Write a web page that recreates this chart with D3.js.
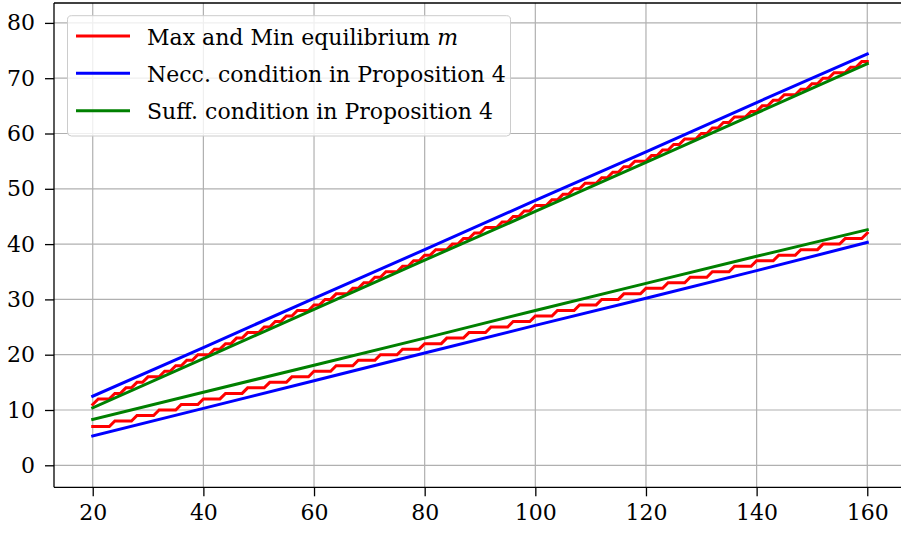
<!DOCTYPE html>
<html>
<head>
<meta charset="utf-8">
<script src="https://cdn.jsdelivr.net/npm/d3@7"></script>
<style>
  html, body { margin: 0; padding: 0; background: #fff; }
  svg { display: block; }
  text { font-family: "DejaVu Serif", "Liberation Serif", serif; fill: #000; }
</style>
</head>
<body>
<svg id="chart" width="901" height="534"></svg>
<script>
// ---------- data ----------
const xTicks = [20, 40, 60, 80, 100, 120, 140, 160];
const yTicks = [0, 10, 20, 30, 40, 50, 60, 70, 80];

// integer n = 20..160
const nValues = d3.range(20, 161);

// Max equilibrium m (one value per n = 20..160)
const maxEq = [
  11,12,12,12,13,13,14,14,15,15,16,16,16,17,17,18,18,19,19,20,
  20,20,21,21,22,22,23,23,24,24,24,25,25,26,26,27,27,28,28,28,
  29,29,30,30,31,31,31,32,32,33,33,34,34,35,35,35,36,36,37,37,
  38,38,39,39,39,40,40,41,41,42,42,43,43,43,44,44,45,45,46,46,
  47,47,47,48,48,49,49,50,50,51,51,51,52,52,53,53,54,54,55,55,
  55,56,56,57,57,58,58,59,59,59,60,60,61,61,62,62,63,63,63,64,
  64,65,65,66,66,67,67,67,68,68,69,69,70,70,71,71,71,72,72,73,
  73
];
// Min equilibrium m (one value per n = 20..160)
const minEq = [
  7,7,7,7,8,8,8,8,9,9,9,9,10,10,10,10,11,11,11,11,
  12,12,12,12,13,13,13,13,14,14,14,14,15,15,15,15,16,16,16,16,
  17,17,17,17,18,18,18,18,19,19,19,19,20,20,20,20,21,21,21,21,
  22,22,22,22,23,23,23,23,24,24,24,24,25,25,25,25,26,26,26,26,
  27,27,27,27,28,28,28,28,29,29,29,29,30,30,30,30,31,31,31,31,
  32,32,32,32,33,33,33,33,34,34,34,34,35,35,35,35,36,36,36,36,
  37,37,37,37,38,38,38,38,39,39,39,39,40,40,40,40,41,41,41,41,
  42
];

// Condition curves, sampled at n = 20, 40, ..., 160
const condX = [20, 40, 60, 80, 100, 120, 140, 160];
const neccUpper = [12.5, 21.3, 30.2, 39.0, 47.9, 56.7, 65.6, 74.4];
const neccLower = [5.3, 10.3, 15.3, 20.3, 25.3, 30.2, 35.2, 40.3];
const suffUpper = [10.4, 19.3, 28.2, 37.1, 45.9, 54.8, 63.7, 72.6];
const suffLower = [8.3, 13.2, 18.1, 23.0, 28.0, 32.9, 37.8, 42.6];

const legendLabels = ["Max and Min equilibrium ", "Necc. condition in Proposition 4", "Suff. condition in Proposition 4"];
const colors = ["#ff0000", "#0000ff", "#008000"];

// ---------- drawing ----------
const svg = d3.select("#chart");
const plot = { left: 54, right: 906, top: 3, bottom: 487.3 };

const x = d3.scaleLinear().domain([13, 167]).range([plot.left, plot.right]);
const y = d3.scaleLinear().domain([-3.98, 83.6]).range([plot.bottom, plot.top]);

const fontSize = 22;

// grid
const grid = svg.append("g");
grid.selectAll("line.vx").data(xTicks).join("line")
  .attr("x1", d => x(d)).attr("x2", d => x(d))
  .attr("y1", plot.top).attr("y2", plot.bottom)
  .attr("stroke", "#b0b0b0").attr("stroke-width", 1.2);
grid.selectAll("line.hy").data(yTicks).join("line")
  .attr("x1", plot.left).attr("x2", plot.right)
  .attr("y1", d => y(d)).attr("y2", d => y(d))
  .attr("stroke", "#b0b0b0").attr("stroke-width", 1.2);

// lines
const line = d3.line().x(d => x(d[0])).y(d => y(d[1]));
const zip = (xs, ys) => xs.map((v, i) => [v, ys[i]]);

const series = [
  { data: zip(nValues, maxEq), color: colors[0] },
  { data: zip(nValues, minEq), color: colors[0] },
  { data: zip(condX, neccUpper), color: colors[1] },
  { data: zip(condX, neccLower), color: colors[1] },
  { data: zip(condX, suffUpper), color: colors[2] },
  { data: zip(condX, suffLower), color: colors[2] }
];
svg.append("g").selectAll("path").data(series).join("path")
  .attr("d", d => line(d.data))
  .attr("fill", "none")
  .attr("stroke", d => d.color)
  .attr("stroke-width", 3)
  .attr("stroke-linejoin", "miter")
  .attr("stroke-linecap", "square");

// axes
const xAxis = d3.axisBottom(x).tickValues(xTicks).tickSize(9).tickPadding(8).tickFormat(d3.format("d"));
const yAxis = d3.axisLeft(y).tickValues(yTicks).tickSize(9).tickPadding(10).tickFormat(d3.format("d"));

const gx = svg.append("g").attr("transform", `translate(0,${plot.bottom})`).call(xAxis);
const gy = svg.append("g").attr("transform", `translate(${plot.left},0)`).call(yAxis);
[gx, gy].forEach(g => {
  g.select(".domain").remove();
  g.selectAll(".tick line").attr("stroke", "#000").attr("stroke-width", 1.3);
  g.selectAll(".tick text").attr("font-size", fontSize).attr("font-family", "DejaVu Serif").attr("fill", "#000");
});

// spines
svg.append("line").attr("x1", plot.left).attr("x2", plot.left).attr("y1", plot.top).attr("y2", plot.bottom)
  .attr("stroke", "#000").attr("stroke-width", 1.3);
svg.append("line").attr("x1", plot.left).attr("x2", plot.right).attr("y1", plot.bottom).attr("y2", plot.bottom)
  .attr("stroke", "#000").attr("stroke-width", 1.3);
svg.append("line").attr("x1", plot.left).attr("x2", plot.right).attr("y1", plot.top).attr("y2", plot.top)
  .attr("stroke", "#000").attr("stroke-width", 1.3);

// legend
const lg = svg.append("g");
lg.append("rect")
  .attr("x", 67.5).attr("y", 15.7).attr("width", 443).attr("height", 120.3)
  .attr("rx", 4).attr("ry", 4)
  .attr("fill", "#fff").attr("fill-opacity", 0.8)
  .attr("stroke", "#cccccc").attr("stroke-width", 1);
const rowY = [36, 73.3, 110.7];
legendLabels.forEach((lab, i) => {
  lg.append("line").attr("x1", 76).attr("x2", 130).attr("y1", rowY[i]).attr("y2", rowY[i])
    .attr("stroke", colors[i]).attr("stroke-width", 3);
  const t = lg.append("text").attr("x", 147).attr("y", rowY[i] + 8.5)
    .attr("font-size", fontSize).text(lab);
  if (i === 0) t.append("tspan").attr("font-style", "italic").text("m");
});
</script>
</body>
</html>
